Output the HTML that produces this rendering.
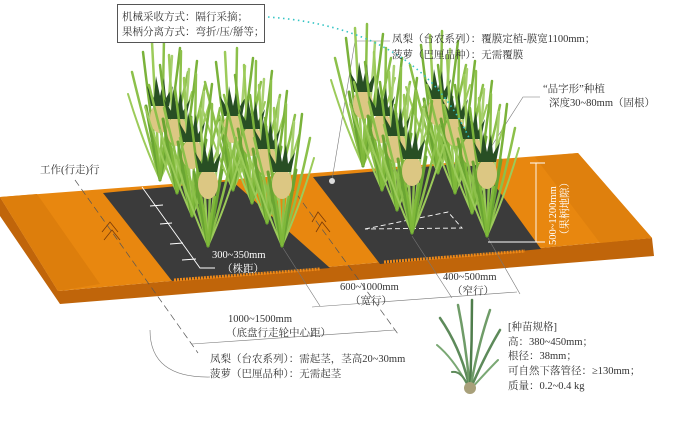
<!DOCTYPE html>
<html><head><meta charset="utf-8"><style>
html,body{margin:0;padding:0;background:#fff;}
svg{display:block;}
text{font-family:"Liberation Serif","Noto Serif CJK SC","Noto Sans CJK SC",serif;fill:#333;font-size:10.5px;}
</style></head><body>
<svg width="674" height="433" viewBox="0 0 674 433" xmlns="http://www.w3.org/2000/svg">
<defs>
<g id="p">
 <g fill="none" stroke-linecap="round">
  <path d="M0,0 Q-14,-50 -28,-108" stroke="#8cc04a" stroke-width="2.5"/>
  <path d="M0,0 Q-9,-60 -17,-128" stroke="#7ab23a" stroke-width="2.5"/>
  <path d="M0,0 Q-4,-60 -8,-138" stroke="#9ccb5a" stroke-width="2.5"/>
  <path d="M0,0 Q3,-70 4,-142" stroke="#8cc04a" stroke-width="2.5"/>
  <path d="M0,0 Q8,-60 12,-124" stroke="#a8d070" stroke-width="2.5"/>
  <path d="M0,0 Q12,-60 20,-132" stroke="#7ab23a" stroke-width="2.5"/>
  <path d="M0,0 Q16,-50 28,-108" stroke="#8cc04a" stroke-width="2.5"/>
  <path d="M0,0 Q-18,-40 -32,-86" stroke="#9ccb5a" stroke-width="2"/>
  <path d="M0,0 Q18,-40 32,-88" stroke="#9ccb5a" stroke-width="2"/>
  <path d="M0,0 Q-6,-30 -14,-74" stroke="#6aa532" stroke-width="3"/>
  <path d="M0,0 Q6,-30 14,-76" stroke="#6aa532" stroke-width="3"/>
 </g>
 <ellipse cx="0" cy="-62" rx="10" ry="15" fill="#dcc783"/>
 <polygon points="-9,-74 -13,-94 -6,-82 -4,-104 0,-84 4,-102 6,-82 13,-94 9,-74" fill="#284f24"/>
 <path d="M0,0 Q-3,-30 -7,-50 M0,0 Q3,-30 7,-50" stroke="#7fb83a" stroke-width="2.5" fill="none"/>
</g>
</defs>

<!-- board -->
<polygon points="0,197 0,216 60,304 654,256 652,238 58,291" fill="#c0650a"/>
<polygon points="0,197 578,153 652,238 58,291" fill="#e8870f"/>
<polygon points="0,197 37,194 100,284 58,291" fill="#dd7e0c"/>
<polygon points="535,157 578,153 652,238 600,243" fill="#df800d"/>
<!-- black panels -->
<polygon points="103,193 232,181 330,268 172,281" fill="#3b3b3b"/>
<polygon points="313,177 478,162 541,249 380,264" fill="#3b3b3b"/>
<polyline points="174,280 320,269" stroke="#f08a18" stroke-width="3" stroke-dasharray="2 1"/>
<polyline points="384,262 525,251" stroke="#f08a18" stroke-width="3" stroke-dasharray="2 1"/>
<g stroke="#7a3a08" stroke-width="0.8" fill="none">
<path d="M102,232 L110,222 L118,232 M104,240 L112,230 L120,240"/>
<path d="M312,222 L318,212 L326,222 M316,232 L322,222 L330,232"/>
</g>

<g stroke="#555" stroke-width="0.7" fill="none" stroke-dasharray="7 4">
<path d="M75,180 L198,353"/>
<path d="M290,185 L398,334"/>
</g>
<g stroke="#777" stroke-width="0.6" fill="none">
<path d="M283,248 L320,306"/>
<path d="M412,236 L452,298"/>
<path d="M488,238 L520,294"/>
<path d="M150,330 Q150,378 210,377"/>
<path d="M312,307 L517,292"/>
<path d="M192,344 L395,330"/>
<path d="M390,41 L355,41 L332,180"/>
<path d="M540,97 L523,97 L470,180"/>
</g>
<circle cx="332" cy="181" r="3" fill="#ddd"/>
<g stroke="#fff" stroke-width="0.9" fill="none">
<path d="M142,187 L200,268 L215,268"/>
<path d="M150,206 L163,205 M160,224 L172,223 M170,244 L183,243 M182,260 L196,259"/>
<path d="M365,229 L448,212 L462,228 Z" stroke-dasharray="5 3"/>
<path d="M536,163 L536,242 M530,163 L545,163 M488,242 L545,242"/>
</g>

<use href="#p" x="363" y="166"/>
<use href="#p" x="438" y="173"/>
<use href="#p" x="160" y="180"/>
<use href="#p" x="382" y="190"/>
<use href="#p" x="233" y="190"/>
<use href="#p" x="455" y="193"/>
<use href="#p" x="177" y="193"/>
<use href="#p" x="252" y="203"/>
<use href="#p" x="397" y="210"/>
<use href="#p" x="472" y="213"/>
<use href="#p" x="192" y="216"/>
<use href="#p" x="267" y="223"/>
<use href="#p" x="412" y="233"/>
<use href="#p" x="487" y="236"/>
<use href="#p" x="208" y="246"/>
<use href="#p" x="282" y="246"/>

<path d="M268,17 Q420,28 470,140" stroke="#33c4c4" stroke-width="1.6" stroke-dasharray="1.5 3.5" fill="none"/>

<rect x="117.5" y="4.5" width="147" height="38" fill="#fff" stroke="#555" stroke-width="1"/>
<text x="122" y="20">机械采收方式：隔行采摘；</text>
<text x="122" y="35">果柄分离方式：弯折/压/掰等；</text>

<text x="392" y="42">凤梨（台农系列）：覆膜定植-膜宽1100mm；</text>
<text x="392" y="58">菠萝（巴厘品种）：无需覆膜</text>
<text x="543" y="92">“品字形”种植</text>
<text x="549" y="106">深度30~80mm（固根）</text>
<text x="40" y="173">工作(行走)行</text>
<text x="212" y="258" style="fill:#fff">300~350mm</text>
<text x="222" y="272" style="fill:#fff">（株距）</text>
<text x="340" y="290">600~1000mm</text>
<text x="350" y="304">（宽行）</text>
<text x="443" y="280">400~500mm</text>
<text x="452" y="294">（窄行）</text>
<text x="228" y="322">1000~1500mm</text>
<text x="226" y="336">（底盘行走轮中心距）</text>
<text x="210" y="362">凤梨（台农系列）：需起茎，茎高20~30mm</text>
<text x="210" y="377">菠萝（巴厘品种）：无需起茎</text>
<text transform="translate(556,245) rotate(-90)" style="fill:#fff">500~1200mm</text>
<text transform="translate(568,240) rotate(-90)" style="fill:#fff">（果柄地隙）</text>

<g stroke-linecap="round" fill="none">
<path d="M470,390 Q462,350 440,318" stroke="#5d8a5a" stroke-width="2.5"/>
<path d="M470,390 Q466,345 458,305" stroke="#6f9c68" stroke-width="2.5"/>
<path d="M470,390 Q472,345 472,300" stroke="#4f7d4c" stroke-width="2.5"/>
<path d="M470,390 Q478,345 490,310" stroke="#6f9c68" stroke-width="2.5"/>
<path d="M470,390 Q485,355 500,330" stroke="#5d8a5a" stroke-width="2.5"/>
<path d="M470,390 Q455,360 437,345" stroke="#7aa874" stroke-width="2"/>
<path d="M470,390 Q488,370 498,360" stroke="#7aa874" stroke-width="2"/>
<path d="M470,390 Q462,370 452,372" stroke="#5d8a5a" stroke-width="2"/>
</g>
<ellipse cx="470" cy="388" rx="6" ry="6" fill="#a8a07a"/>
<text x="508" y="330">[种苗规格]</text>
<text x="508" y="345">高：380~450mm；</text>
<text x="508" y="359">根径：38mm；</text>
<text x="508" y="374">可自然下落管径：≥130mm；</text>
<text x="508" y="389">质量：0.2~0.4 kg</text>
</svg>
</body></html>
